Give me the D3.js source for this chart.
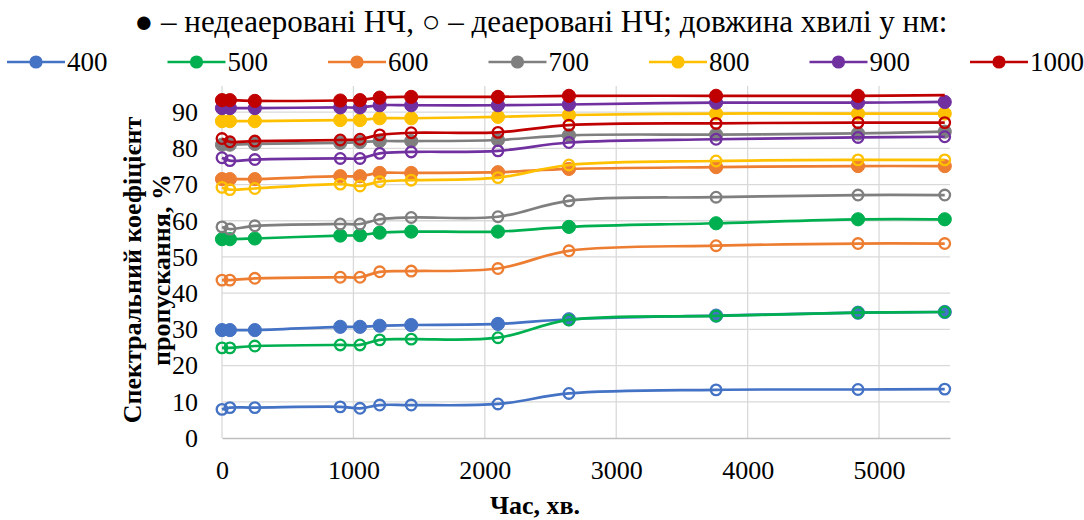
<!DOCTYPE html>
<html>
<head>
<meta charset="utf-8">
<script src="https://cdn.jsdelivr.net/npm/d3@7"></script>
<style>
  html, body { margin: 0; padding: 0; background: #fff; }
  svg { display: block; }
  svg text { font-family: "Liberation Serif", "Times New Roman", serif; fill: #000; }
</style>
</head>
<body>
<svg id="chart" width="1084" height="520"></svg>
<script>
// Time of measurement, minutes
const times = [0, 60, 250, 900, 1050, 1200, 1440, 2100, 2640, 3760, 4840, 5500];

// Wavelengths, nm
const wavelengths = ["400", "500", "600", "700", "800", "900", "1000"];
const colors = ["#4472C4", "#00B050", "#ED7D31", "#7F7F7F", "#FFC000", "#7030A0", "#C00000"];

// Non-deaerated liquid crystals, transmittance %
const plain400  = [29.8, 29.8, 29.8, 30.7, 30.7, 31.0, 31.2, 31.5, 32.8, 33.8, 34.6, 34.8];
const plain500  = [54.9, 54.9, 55.1, 55.9, 56.0, 56.7, 57.0, 57.0, 58.3, 59.3, 60.4, 60.4];
const plain600  = [71.5, 71.5, 71.5, 72.3, 72.3, 73.2, 73.2, 73.4, 74.3, 74.8, 75.1, 75.1];
const plain700  = [81.0, 81.0, 81.2, 81.5, 81.7, 82.0, 82.0, 82.3, 83.6, 83.8, 84.1, 84.6];
const plain800  = [87.5, 87.5, 87.5, 87.8, 87.8, 88.3, 88.3, 88.7, 89.2, 89.6, 89.6, 89.6];
const plain900  = [91.1, 91.1, 91.1, 91.3, 91.3, 91.9, 91.9, 91.9, 92.1, 92.6, 92.6, 92.8];
const plain1000 = [93.3, 93.3, 93.1, 93.2, 93.3, 94.0, 94.2, 94.2, 94.5, 94.5, 94.5, 94.7];

// Deaerated liquid crystals, transmittance %
const deaer400  = [7.9, 8.4, 8.4, 8.6, 8.2, 9.1, 9.1, 9.4, 12.3, 13.3, 13.4, 13.5];
const deaer500  = [24.9, 24.9, 25.4, 25.7, 25.7, 27.1, 27.3, 27.7, 32.6, 33.7, 34.6, 34.8];
const deaer600  = [43.6, 43.6, 44.1, 44.4, 44.4, 45.9, 46.1, 46.8, 51.7, 53.1, 53.7, 53.7];
const deaer700  = [58.3, 57.7, 58.6, 59.1, 59.1, 60.4, 60.9, 61.1, 65.5, 66.5, 67.1, 67.1];
const deaer800  = [69.2, 68.6, 68.9, 70.1, 69.6, 70.8, 71.2, 71.9, 75.4, 76.5, 76.8, 76.8];
const deaer900  = [77.4, 76.6, 76.9, 77.2, 77.2, 78.6, 79.0, 79.3, 81.6, 82.5, 83.0, 83.2];
const deaer1000 = [82.7, 81.8, 82.0, 82.3, 82.5, 83.7, 84.3, 84.4, 86.4, 86.9, 87.1, 87.1];

// Points drawn without a marker (series key -> point indices)
const markerless = { "plain1000": [11] };

const xTicks = [0, 1000, 2000, 3000, 4000, 5000];
const yTicks = [0, 10, 20, 30, 40, 50, 60, 70, 80, 90];

const titleText = "\u25CF \u2013 недеаеровані НЧ, \u25CB \u2013 деаеровані НЧ; довжина хвилі у нм:";
const xTitle = "Час, хв.";
const yTitle = ["Спектральний коефіцієнт", "пропускання, %"];

const plainSeries = [plain400, plain500, plain600, plain700, plain800, plain900, plain1000];
const deaerSeries = [deaer400, deaer500, deaer600, deaer700, deaer800, deaer900, deaer1000];

const svg = d3.select("#chart");
const plot = { left: 222, right: 950, top: 94, bottom: 438 };
const serif = "'Liberation Serif', 'Times New Roman', serif";

const x = d3.scaleLinear().domain([0, 5540]).range([plot.left, plot.right]);
const y = d3.scaleLinear().domain([0, 95]).range([plot.bottom, plot.top]);

// Gridlines
const grid = svg.append("g");
grid.selectAll("line.h").data(yTicks.filter(d => d > 0)).join("line")
  .attr("x1", plot.left).attr("x2", plot.right)
  .attr("y1", d => y(d)).attr("y2", d => y(d))
  .attr("stroke", "#d9d9d9").attr("stroke-width", 1.3);
grid.selectAll("line.v").data(xTicks).join("line")
  .attr("x1", d => x(d)).attr("x2", d => x(d))
  .attr("y1", plot.top - 8).attr("y2", plot.bottom)
  .attr("stroke", "#d9d9d9").attr("stroke-width", 1.3);

// X axis
const xAxis = svg.append("g").attr("transform", `translate(0,${plot.bottom})`)
  .call(d3.axisBottom(x).tickValues(xTicks).tickSize(0).tickPadding(23).tickFormat(d3.format("d")));
xAxis.attr("font-family", serif);
xAxis.select(".domain").attr("stroke", "#bfbfbf").attr("stroke-width", 1.3);
xAxis.selectAll("text").attr("font-size", 26).attr("font-family", serif);

// Y axis
const yAxis = svg.append("g").attr("transform", `translate(${plot.left},0)`)
  .call(d3.axisLeft(y).tickValues(yTicks).tickSize(0).tickPadding(24).tickFormat(d3.format("d")));
yAxis.attr("font-family", serif);
yAxis.select(".domain").remove();
yAxis.selectAll("text").attr("font-size", 26).attr("font-family", serif);

// Axis titles
svg.append("text").attr("x", 535).attr("y", 514)
  .attr("text-anchor", "middle").attr("font-size", 26).attr("font-weight", "bold")
  .text(xTitle);
yTitle.forEach((t, i) => {
  svg.append("text")
    .attr("transform", `translate(${141 + i * 29},270) rotate(-90)`)
    .attr("text-anchor", "middle").attr("font-size", 26).attr("font-weight", "bold")
    .text(t);
});

// Chart title
svg.append("text").attr("x", 541).attr("y", 32)
  .attr("text-anchor", "middle").attr("font-size", 31).text(titleText);

const line = d3.line().x(d => x(d.t)).y(d => y(d.v)).curve(d3.curveCatmullRom.alpha(0.5));

function drawSeries(values, color, filled, key) {
  const pts = values.map((v, i) => ({ t: times[i], v, i }));
  const skip = markerless[key] || [];
  const g = svg.append("g");
  g.append("path").datum(pts).attr("d", line)
    .attr("fill", "none").attr("stroke", color).attr("stroke-width", 2.7)
    .attr("stroke-linejoin", "round");
  g.selectAll("circle").data(pts.filter(p => !skip.includes(p.i))).join("circle")
    .attr("cx", d => x(d.t)).attr("cy", d => y(d.v))
    .attr("r", filled ? 6.6 : 5.3)
    .attr("fill", filled ? color : "none")
    .attr("stroke", color).attr("stroke-width", filled ? 1 : 2.3);
}

plainSeries.forEach((s, i) => drawSeries(s, colors[i], true, "plain" + wavelengths[i]));
deaerSeries.forEach((s, i) => drawSeries(s, colors[i], false, "deaer" + wavelengths[i]));

// Legend
const legend = svg.append("g");
wavelengths.forEach((w, i) => {
  const lx = 7 + i * 160.5, ly = 62;
  legend.append("line").attr("x1", lx).attr("x2", lx + 58).attr("y1", ly).attr("y2", ly)
    .attr("stroke", colors[i]).attr("stroke-width", 2.7);
  legend.append("circle").attr("cx", lx + 29).attr("cy", ly).attr("r", 6.6).attr("fill", colors[i]);
  legend.append("text").attr("x", lx + 60).attr("y", ly + 9).attr("font-size", 27).text(w);
});
</script>
</body>
</html>
